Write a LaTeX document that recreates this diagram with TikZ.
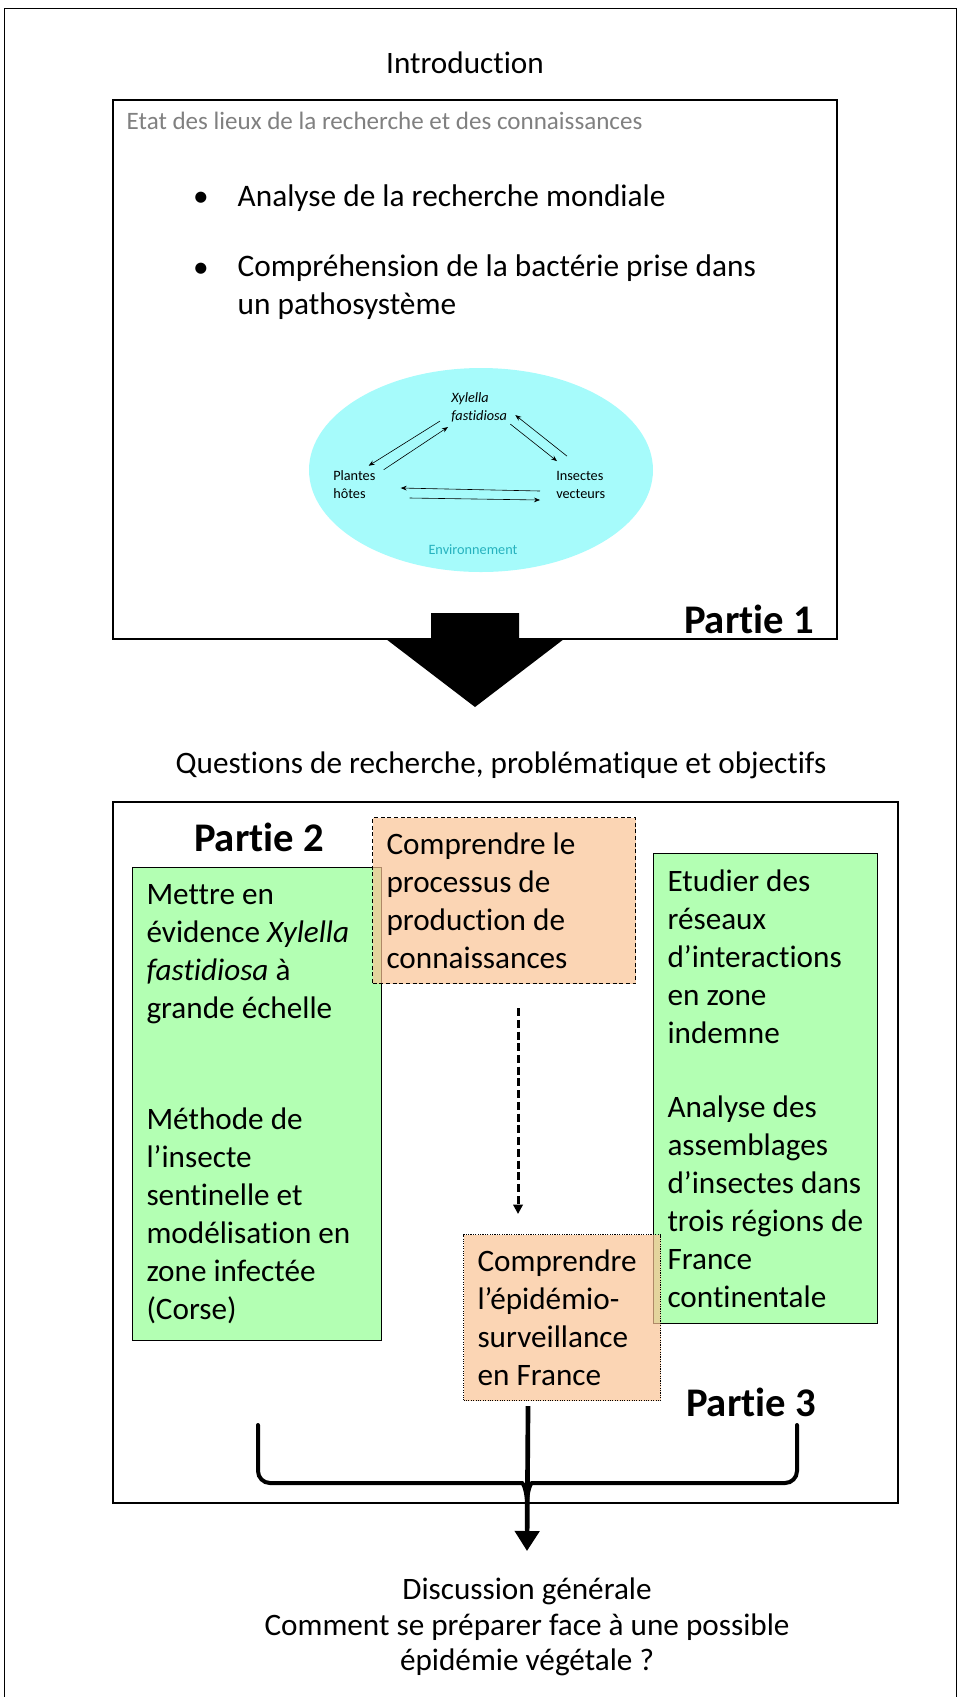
\documentclass[tikz,border=0pt]{standalone}
\usepackage{fontspec}
\setmainfont{Carlito}[Ligatures={NoCommon,NoRare,NoContextual}]
\usetikzlibrary{arrows.meta}

\definecolor{vert}{RGB}{179,255,179}
\definecolor{peche}{RGB}{250,195,148}
\definecolor{cyanclair}{RGB}{166,251,251}
\definecolor{turquoise}{RGB}{38,178,190}

\begin{document}
\begin{tikzpicture}[>=stealth,x=0.75pt,y=-0.75pt,
    titre/.style={font=\fontsize{23.4}{26.6}\selectfont},
    puce/.style={font=\fontsize{23.5}{28}\selectfont},
    partie/.style={font=\fontsize{30.5}{36}\selectfont\bfseries},
    petit/.style={font=\fontsize{10.7}{13.5}\selectfont,inner sep=0pt,align=left},
    cadre/.style={line width=0.9pt},
    boite/.style={font=\fontsize{23.4}{28.5}\selectfont,anchor=north west,align=flush left,inner xsep=10.5pt,inner ysep=0pt,line width=0.8pt},
    vertbox/.style={boite,draw,fill=vert},
    orangebox/.style={boite,draw,fill=peche,fill opacity=0.7,text opacity=1},
    fine/.style={line width=0.45pt,-{Stealth[length=4.5pt,width=3.5pt]}},
    accolade/.style={line width=3pt,line cap=round}]
    \useasboundingbox (0,0) rectangle (958,1697);
    \draw[line width=0.7pt] (4,8) rectangle (956,1702);

    % partie 1
    \node[titre] (intro) at (465,63) {Introduction};
    \draw[cadre] (113,100) rectangle (837,639);
    \node[anchor=west,gray,font=\fontsize{18.8}{22}\selectfont] (etat) at (122,121) {Etat des lieux de la recherche et des connaissances};
    \node[puce,anchor=base] at (201,206) {•};
    \node[puce,anchor=base west] (item1) at (233,206) {Analyse de la recherche mondiale};
    \node[puce,anchor=base] at (201,277) {•};
    \node[puce,anchor=base west,align=left] (item2) at (233,314) {Compréhension de la bactérie prise dans\\un pathosystème};

    \fill[cyanclair] (481,470) ellipse [x radius=129pt,y radius=76.5pt];
    \node[petit,anchor=west] (xf) at (451,407) {\textit{Xylella}\\\textit{fastidiosa}};
    \node[petit,anchor=west] (pl) at (333,485) {Plantes\\hôtes};
    \node[petit,anchor=west] (ins) at (556,485) {Insectes\\vecteurs};
    \node[petit,turquoise] (env) at (473,550) {Environnement};
    \draw[fine] ([shift={(-11,-1)}]xf.south west) -- ([shift={(-7,-5)}]pl.north east);
    \draw[fine] ([shift={(8,-1)}]pl.north east) -- ([shift={(-3,5)}]xf.south west);
    \draw[fine] ([shift={(3,2)}]xf.south east) -- ([shift={(1,-10)}]ins.north west);
    \draw[fine] ([shift={(11,-15)}]ins.north west) -- ([shift={(8,-7)}]xf.south east);
    \draw[fine] ([shift={(-16,6)}]ins.west) -- ([shift={(25,3)}]pl.east);
    \draw[fine] ([shift={(34,13)}]pl.east) -- ([shift={(-16,15)}]ins.west);

    \node[partie] (p1) at (749,619) {Partie 1};
    \fill (431,613) -- (519,613) -- (519,639) -- (564,639) -- (475,707) -- (386,639) -- (431,639) -- cycle;

    % parties 2 et 3
    \node[titre] (quest) at (501,765) {Questions de recherche, problématique et objectifs};
    \draw[cadre] (113,802) rectangle (898,1503);
    \node[partie] (p2) at (259,837) {Partie 2};
    \node[vertbox,minimum width=186.75pt,minimum height=354.75pt,text width=165.75pt] (vert1) at (132,867)
        {Mettre en\\évidence \textit{Xylella}\\\textit{fastidiosa} à\\grande échelle\\[54.5pt]Méthode de\\l’insecte\\sentinelle et\\modélisation~en\\zone infectée\\(Corse)};
    \node[vertbox,minimum width=168pt,minimum height=352.5pt,text width=147pt] (vert2) at (653,853)
        {Etudier des\\réseaux\\d’interactions\\en zone\\indemne\\[26.8pt]Analyse des\\assemblages\\d’insectes~dans\\trois~régions~de\\France\\continentale};
    \node[orangebox,densely dashed,minimum width=197.25pt,minimum height=124.5pt,text width=176.25pt] (orange1) at (372,817)
        {Comprendre le\\processus de\\production de\\connaissances};
    \node[orangebox,densely dotted,minimum width=147.75pt,minimum height=124.5pt,text width=126.75pt] (orange2) at (463,1234)
        {Comprendre\\l’épidémio-\\surveillance\\en France};
    \draw[line width=2.2pt,dash pattern=on 6pt off 2.8pt,-{Triangle[width=7pt,length=7pt]}] ([shift={(14,24)}]orange1.south) -- ([shift={(-44,-20)}]orange2.north);
    \node[partie] (p3) at (751,1402) {Partie 3};

    % accolade et discussion
    \draw[accolade] (258,1425) [rounded corners=9pt] -- (258,1483) -- (510,1483) [sharp corners] .. controls (523,1483) and (527,1490) .. (527,1505);
    \draw[accolade] (797,1425) [rounded corners=9pt] -- (797,1483) -- (544,1483) [sharp corners] .. controls (531,1483) and (527,1490) .. (527,1505);
    \coordinate (pointe) at (527,1551);
    \draw[line width=3.5pt,-{Triangle[width=18pt,length=15pt]}] ([shift={(-34,5)}]orange2.south) -- (pointe);
    \node[titre,align=center] (disc) at (527,1627) {Discussion générale\\Comment se préparer face à une possible\\épidémie végétale ?};
\end{tikzpicture}
\end{document}
